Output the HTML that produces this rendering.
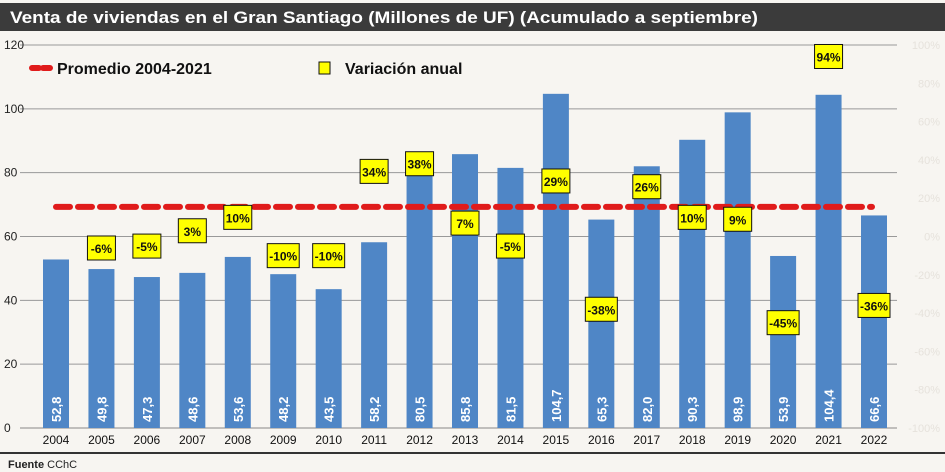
<!DOCTYPE html>
<html><head><meta charset="utf-8">
<style>
body{margin:0;background:#f7f5f1;}
svg{display:block;font-family:"Liberation Sans",sans-serif;}
</style></head>
<body>
<svg id="chart" width="945" height="472" viewBox="0 0 945 472" xmlns="http://www.w3.org/2000/svg">
<rect x="0" y="0" width="945" height="472" fill="#f7f5f1"/>
<rect x="0" y="3" width="945" height="28" fill="#3b3b3b"/>
<text x="10" y="23" fill="#fff" font-size="17" font-weight="bold" textLength="748" lengthAdjust="spacingAndGlyphs">Venta de viviendas en el Gran Santiago (Millones de UF) (Acumulado a septiembre)</text>
<g id="grid"></g>
<g id="bars"></g>
<line id="avg" stroke="#e01b1b" stroke-width="6" stroke-dasharray="14,8" stroke-linecap="round"/>
<g id="labels"></g>
<g>
<line x1="32" y1="68" x2="50" y2="68" stroke="#e01b1b" stroke-width="6" stroke-dasharray="7,4" stroke-linecap="round"/>
<text x="57" y="74" font-size="16" font-weight="bold" fill="#111">Promedio 2004-2021</text>
<rect x="319" y="62" width="11" height="12" fill="#ffff00" stroke="#111" stroke-width="1"/>
<text x="345" y="74" font-size="16" font-weight="bold" fill="#111">Variación anual</text>
</g>
<line x1="0" y1="453" x2="945" y2="453" stroke="#333" stroke-width="2"/>
<text x="8" y="468" font-size="11" fill="#222"><tspan font-weight="bold">Fuente</tspan>  CChC</text>
</svg>
<script>
const years=["2004","2005","2006","2007","2008","2009","2010","2011","2012","2013","2014","2015","2016","2017","2018","2019","2020","2021","2022"];
const sales=[52.8,49.8,47.3,48.6,53.6,48.2,43.5,58.2,80.5,85.8,81.5,104.7,65.3,82.0,90.3,98.9,53.9,104.4,66.6];
const variation=[null,-6,-5,3,10,-10,-10,34,38,7,-5,29,-38,26,10,9,-45,94,-36];
const average=[69.3];
const leftTicks=[0,20,40,60,80,100,120];
const rightTicks=[-100,-80,-60,-40,-20,0,20,40,60,80,100];
const NS="http://www.w3.org/2000/svg";
const y0=428,yTop=45;
const yL=v=>y0-(v/120)*(y0-yTop);
const yR=v=>y0-((v+100)/200)*(y0-yTop);
const xC=i=>56+i*(874-56)/(years.length-1);
function mk(t,a,p){const e=document.createElementNS(NS,t);for(const k in a)e.setAttribute(k,a[k]);(p||document.getElementById('chart')).appendChild(e);return e;}
const grid=document.getElementById('grid');
leftTicks.forEach(t=>{
 const l=mk('line',{x1:20,x2:897,y1:yL(t),y2:yL(t),stroke:t===0?'#888':'#999','stroke-width':1},grid);
 
 
 const tx=mk('text',{x:4,y:yL(t)+4,'font-size':12,fill:'#222'},grid);tx.textContent=t;
 
 
});
rightTicks.forEach(t=>{
 const tx=mk('text',{x:940,y:yR(t)+4,'font-size':11,fill:'#e6e2dc','text-anchor':'end'},grid);tx.textContent=t+'%';
 
 
});
const bars=document.getElementById('bars');
sales.forEach((v,i)=>{
 const r=mk('rect',{x:xC(i)-13,y:yL(v),width:26,height:y0-yL(v),fill:'#4f86c6'},bars);
 
 
 const t=mk('text',{x:0,y:0,'font-size':13,'font-weight':'bold',fill:'#fff',transform:`translate(${xC(i)+5},${y0-6}) rotate(-90)`},bars);
 t.textContent=v.toFixed(1).replace('.',',');
 
 
 const yl=mk('text',{x:xC(i),y:444,'font-size':12,fill:'#111','text-anchor':'middle'},bars);yl.textContent=years[i];
 
 
});
const avg=document.getElementById('avg');
avg.setAttribute('x1',56);avg.setAttribute('x2',872);avg.setAttribute('y1',yL(average[0]));avg.setAttribute('y2',yL(average[0]));
const labels=document.getElementById('labels');
variation.forEach((v,i)=>{
 if(v===null)return;
 const txt=v+'%';const w=txt.length>3?32:28;
 const cy=yR(v);
 const r=mk('rect',{x:xC(i)-w/2,y:cy-12,width:w,height:24,fill:'#ffff00',stroke:'#111','stroke-width':1},labels);
 
 
 const t=mk('text',{x:xC(i),y:cy+5,'font-size':12,'font-weight':'bold',fill:'#111','text-anchor':'middle'},labels);t.textContent=txt;
 
 
});
</script>
</body></html>
